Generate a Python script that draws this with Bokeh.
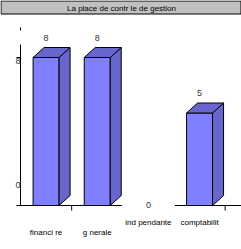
from bokeh.plotting import figure
from bokeh.models import Range1d
from bokeh.embed import file_html
from bokeh.resources import INLINE
from bokeh.core.properties import value

# ---- data ----
title_text = "La place de contr le de gestion"
categories = ["financi re", "g nerale", "ind pendante", "comptabilit"]
values = [8, 8, 0, 5]
y_tick_values = [0, 8]
y_tick_labels = ["0", "8"]

# ---- geometry (pixels) ----
W, H = 241, 249
AX_X, AX_Y = 20, 205          # pixel position of the axes origin
PX_X, PX_Y = 51.16, 18.5      # pixels per x unit / per value unit
DEPTH_X, DEPTH_Y = 11, 10     # 3D depth in pixels
HALF_W = 13                   # half width of the front face in px
FONT = value("Liberation Sans")


def dx(px):
    return (px - AX_X) / PX_X


def dy(py):
    return (AX_Y - py) / PX_Y


p = figure(width=W, height=H, output_backend="svg", toolbar_location=None,
           x_range=Range1d(dx(0), dx(W)), y_range=Range1d(dy(H), dy(0)),
           x_axis_location=None, y_axis_location=None, min_border=0)
p.grid.visible = False
p.outline_line_color = None
p.background_fill_color = "white"
p.border_fill_color = "white"
# separate scale used by the value-axis tick labels
p.extra_y_ranges = {"axis": Range1d(-(H - 184) / 15.5, 184 / 15.5)}

centers = [i + 0.5 for i in range(len(categories))]
ddx = DEPTH_X / PX_X
ddy = DEPTH_Y / PX_Y
hw = HALF_W / PX_X

# ---- title bar ----
p.quad(left=[dx(0.5)], right=[dx(240.5)], top=[dy(0.5)], bottom=[dy(13.5)],
       fill_color="#C0C0C0", line_color="black", line_width=1)
p.text(x=[dx(121)], y=[dy(7.5)], text=[title_text], text_font=FONT,
       text_font_size="8px", text_align="center", text_baseline="middle",
       text_color="black")

# ---- 3D bars ----
bx = [c for c, v in zip(centers, values) if v > 0]
bv = [v for v in values if v > 0]
p.quad(left=[c - hw for c in bx], right=[c + hw for c in bx],
       bottom=[0] * len(bx), top=bv,
       fill_color="#8080FF", line_color="black", line_width=1)
side_xs = [[c + hw, c + hw + ddx, c + hw + ddx, c + hw] for c in bx]
side_ys = [[0, ddy, v + ddy, v] for v in bv]
p.patches(side_xs, side_ys, fill_color="#6666CC", line_color="black", line_width=1)
top_xs = [[c - hw, c - hw + ddx, c + hw + ddx, c + hw] for c in bx]
top_ys = [[v, v + ddy, v + ddy, v] for v in bv]
p.patches(top_xs, top_ys, fill_color="#6666CC", line_color="black", line_width=1)

# ---- axes ----
p.segment(x0=[0], y0=[0], x1=[0], y1=[dy(27)], line_color="black", line_width=1)
p.segment(x0=[0], y0=[0], x1=[dx(241)], y1=[0], line_color="black", line_width=1)
p.segment(x0=[dx(16)] * len(y_tick_values), y0=y_tick_values,
          x1=[0] * len(y_tick_values), y1=y_tick_values, line_color="black")
xt = list(range(1, len(categories) + 1))
p.segment(x0=xt, y0=[0] * len(xt), x1=xt, y1=[dy(210)] * len(xt), line_color="black")
p.text(x=[dx(20)] * len(y_tick_values), y=y_tick_values, text=y_tick_labels,
       y_range_name="axis", text_font=FONT, text_font_size="9px",
       text_align="right", text_baseline="middle", text_color="#333333")

# ---- category labels (staggered) ----
cat_y = [dy(232) if i < 2 else dy(222) for i in range(len(categories))]
p.text(x=centers, y=cat_y, text=categories, text_font=FONT, text_font_size="8px",
       text_align="center", text_baseline="middle", text_color="black")

# ---- value labels with white boxes ----
lab_y = [v + 20 / PX_Y if v > 0 else dy(204) for v in values]
p.rect(x=centers, y=lab_y, width=53 / PX_X, height=14 / PX_Y,
       fill_color="white", line_color=None)
p.text(x=centers, y=lab_y, text=[str(v) for v in values], text_font=FONT,
       text_font_size="9px", text_align="center", text_baseline="middle",
       text_color="#333333")

open("out.html", "w").write(file_html(p, INLINE))
